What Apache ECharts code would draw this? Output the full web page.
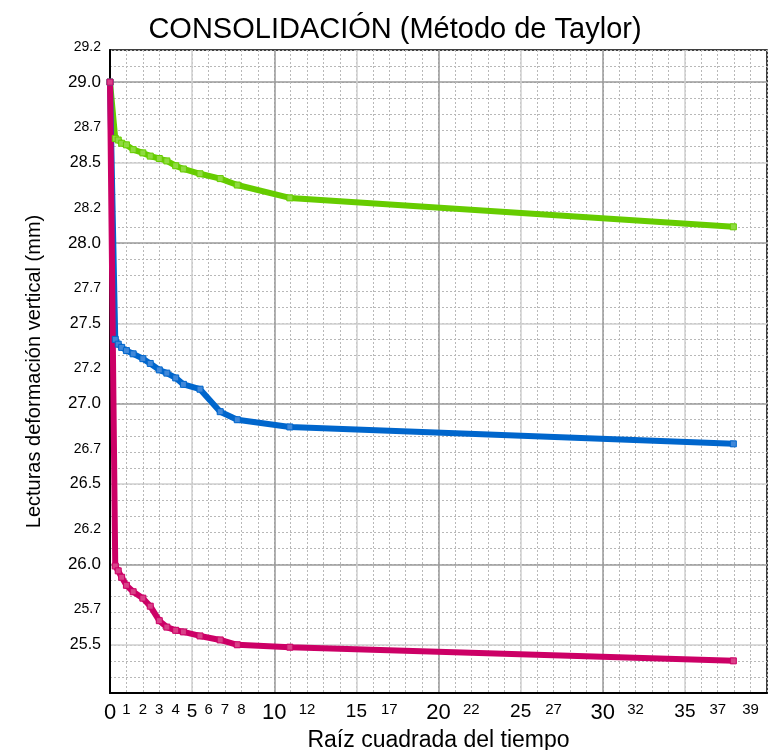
<!DOCTYPE html>
<html>
<head>
<meta charset="utf-8">
<script src="https://cdn.jsdelivr.net/npm/echarts@6.0.0/dist/echarts.min.js"></script>
<style>
  html, body { margin: 0; padding: 0; background: #fff; }
  #chart { width: 770px; height: 750px; }
</style>
</head>
<body>
<div id="chart"></div>
<script>
// Square root of elapsed time (min^0.5) at each dial reading
const sqrtTime = [0, 0.32, 0.5, 0.71, 1, 1.41, 2, 2.45, 3, 3.46, 4, 4.47, 5.48, 6.71, 7.75, 10.95, 37.95];

// Dial readings (mm) for the three load increments
const readingsGreen   = [29.00, 28.65, 28.64, 28.62, 28.61, 28.58, 28.56, 28.54, 28.525, 28.51, 28.48, 28.46, 28.43, 28.40, 28.36, 28.28, 28.10];
const readingsBlue    = [29.00, 27.40, 27.37, 27.35, 27.33, 27.31, 27.28, 27.25, 27.21, 27.19, 27.16, 27.12, 27.09, 26.95, 26.90, 26.855, 26.75];
const readingsMagenta = [29.00, 25.99, 25.96, 25.92, 25.87, 25.83, 25.79, 25.74, 25.65, 25.61, 25.59, 25.58, 25.555, 25.53, 25.50, 25.485, 25.40];

// Tick labels
const xTickLabels = [0, 1, 2, 3, 4, 5, 6, 7, 8, 10, 12, 15, 17, 20, 22, 25, 27, 30, 32, 35, 37, 39];
const yTickLabels = [29.2, 29.0, 28.7, 28.5, 28.2, 28.0, 27.7, 27.5, 27.2, 27.0, 26.7, 26.5, 26.2, 26.0, 25.7, 25.5];

// Grid line positions
const xHalfLines = [5, 15, 25, 35];
const xMainLines = [10, 20, 30];
const yHalfLines = [25.5, 26.5, 27.5, 28.5];
const yMainLines = [26, 27, 28, 29];

const X_MIN = 0, X_MAX = 40;
const Y_MIN = 25.2, Y_MAX = 29.2;
const FONT = "'Liberation Sans', Arial, sans-serif";

function pairs(xs, ys) { return xs.map((x, i) => [x, ys[i]]); }

function xLabel(v) {
  if (v % 10 === 0) return '{b|' + v + '}';
  if (v % 5 === 0) return '{m|' + v + '}';
  return '{s|' + v + '}';
}
function yLabel(v) {
  const t = v.toFixed(1);
  const r = Math.round(v * 10) % 10;
  if (r === 0 && v !== 29.2) return '{b|' + t + '}';
  if (r === 5) return '{m|' + t + '}';
  return '{s|' + t + '}';
}

const hiddenParts = {
  axisLine: { show: false },
  axisTick: { show: false },
  axisLabel: { show: false }
};

function gridAxis(base, values, color, width) {
  return Object.assign({}, base, hiddenParts, {
    axisTick: { show: false, customValues: values },
    splitLine: { show: true, lineStyle: { color: color, width: width, type: 'solid' } }
  });
}

const xBase = { type: 'value', min: X_MIN, max: X_MAX, position: 'bottom', gridIndex: 0 };
const yBase = { type: 'value', min: Y_MIN, max: Y_MAX, position: 'left', gridIndex: 0 };

function lineSeries(name, ys, color, light) {
  return {
    name: name,
    type: 'line',
    data: pairs(sqrtTime, ys),
    clip: false,
    symbol: 'rect',
    symbolSize: 6,
    showSymbol: true,
    lineStyle: { color: color, width: 6 },
    itemStyle: { color: light, borderColor: color, borderWidth: 1 },
    emphasis: { disabled: true },
    animation: false
  };
}

const chart = echarts.init(document.getElementById('chart'), null, { renderer: 'canvas' });

chart.setOption({
  backgroundColor: '#fff',
  animation: false,
  textStyle: { fontFamily: FONT },
  title: {
    text: 'CONSOLIDACIÓN (Método de Taylor)',
    left: 390,
    top: 10,
    textAlign: 'center',
    textStyle: { fontFamily: FONT, fontSize: 29, fontWeight: 'normal', color: '#000' }
  },
  grid: {
    left: 110, right: 3, top: 50, bottom: 57,
    show: true, borderColor: '#000', borderWidth: 1.5, backgroundColor: 'transparent',
    containLabel: false,
    outerBoundsMode: 'none'
  },
  xAxis: [
    Object.assign({}, xBase, {
      interval: 1,
      name: 'Raíz cuadrada del tiempo',
      nameLocation: 'middle',
      nameGap: 31,
      nameTextStyle: { fontFamily: FONT, fontSize: 23, color: '#000' },
      axisLine: { show: true, onZero: false, lineStyle: { color: '#000', width: 2 } },
      axisTick: { show: false },
      axisLabel: {
        show: true,
        customValues: xTickLabels,
        margin: 9,
        color: '#000',
        formatter: xLabel,
        rich: {
          b: { fontSize: 22, fontFamily: FONT, color: '#000' },
          m: { fontSize: 19, fontFamily: FONT, color: '#000' },
          s: { fontSize: 15, fontFamily: FONT, color: '#000' }
        }
      },
      splitLine: { show: true, lineStyle: { color: '#b8b8b8', width: 1, type: [2, 2] } }
    }),
    gridAxis(xBase, xHalfLines, '#cfcfcf', 1.5),
    gridAxis(xBase, xMainLines, '#9a9a9a', 1.5)
  ],
  yAxis: [
    Object.assign({}, yBase, {
      interval: 0.1,
      name: 'Lecturas deformación vertical (mm)',
      nameLocation: 'middle',
      nameGap: 66,
      nameRotate: 90,
      nameTextStyle: { fontFamily: FONT, fontSize: 20, color: '#000' },
      axisLine: { show: true, onZero: false, lineStyle: { color: '#000', width: 2 } },
      axisTick: { show: false },
      axisLabel: {
        show: true,
        customValues: yTickLabels,
        margin: 9,
        color: '#000',
        formatter: yLabel,
        rich: {
          b: { fontSize: 17, fontFamily: FONT, color: '#000' },
          m: { fontSize: 16, fontFamily: FONT, color: '#000' },
          s: { fontSize: 14, fontFamily: FONT, color: '#000', padding: [0, 0, 6, 0] }
        }
      },
      splitLine: { show: true, lineStyle: { color: '#b8b8b8', width: 1, type: [2, 2] } }
    }),
    gridAxis(yBase, yHalfLines, '#cfcfcf', 1.5),
    gridAxis(yBase, yMainLines, '#9a9a9a', 1.5)
  ],
  series: [
    lineSeries('Incremento 1', readingsGreen, '#66cc00', '#8fdb40'),
    lineSeries('Incremento 2', readingsBlue, '#0066cc', '#4088d9'),
    lineSeries('Incremento 3', readingsMagenta, '#cc0066', '#d94088')
  ]
});
</script>
</body>
</html>
